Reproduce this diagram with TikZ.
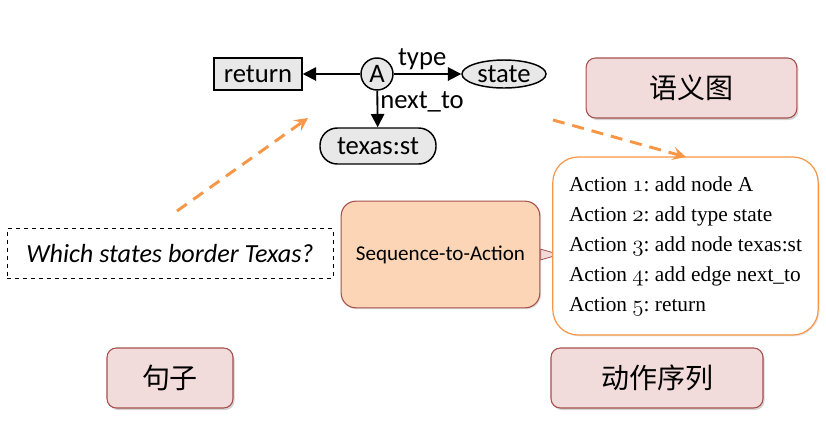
\documentclass[tikz,border=0pt]{standalone}
\usepackage{fontspec}
\setsansfont{Carlito}
\setmainfont{Liberation Serif}
\newfontfamily\cjk{Noto Sans CJK SC}
\usetikzlibrary{arrows.meta,positioning,shapes.geometric,shadows}
\definecolor{GraphGray}{RGB}{232,232,232}
\definecolor{SoftPink}{RGB}{242,220,219}
\definecolor{DeepRed}{RGB}{165,80,77}
\definecolor{SoftPeach}{RGB}{251,213,181}
\definecolor{PptOrange}{RGB}{247,150,70}
\newcommand\osf[1]{{\usefont{OML}{cmm}{m}{it}#1}}
\tikzset{
  gnode/.style={draw=black,fill=GraphGray,line width=1.1pt,inner sep=0pt,
    font=\sffamily\fontsize{20}{22}\selectfont},
  glabel/.style={font=\sffamily\fontsize{20}{22}\selectfont,inner sep=1.5pt},
  garrow/.style={-{Triangle[length=10pt,width=10pt]},line width=1.4pt,black},
  tag/.style={draw=DeepRed,fill=SoftPink,rounded corners=7pt,line width=0.8pt,
    font=\cjk\fontsize{21}{24}\selectfont,minimum height=45pt,
    drop shadow={shadow xshift=1.2pt,shadow yshift=-1.5pt,opacity=0.35}},
  hint/.style={-{Stealth[length=10pt,width=10pt,inset=4pt]},PptOrange,
    line width=2.2pt,dash pattern=on 9pt off 6pt},
  model/.style={draw=DeepRed,fill=SoftPeach,rounded corners=11pt,line width=0.8pt,
    minimum width=149pt,minimum height=80pt,
    font=\sffamily\fontsize{15.8}{18}\selectfont,
    drop shadow={shadow xshift=1pt,shadow yshift=-1pt,opacity=0.25}},
  tab/.style={isosceles triangle,isosceles triangle stretches,draw=DeepRed,
    fill=SoftPink,line width=0.6pt,inner sep=0pt,minimum width=8pt,
    minimum height=14pt}
}
\begin{document}
\begin{tikzpicture}[x=0.75pt,y=-0.75pt]
  \useasboundingbox (0,0) rectangle (826,444);

  % semantic graph
  \node[gnode,circle,minimum size=24pt] (A) at (377,74) {A};
  \node[gnode,minimum width=66pt,minimum height=24pt] (ret) at (258,74) {return};
  \node[gnode,ellipse,minimum width=63pt,minimum height=21pt] (state) at (504,74) {state};
  \node[gnode,rounded corners=13pt,minimum width=87pt,minimum height=27pt]
    (texas) at (378,146) {texas:st};
  \draw[garrow] (A) -- (ret);
  \draw[garrow] (A) -- node[glabel,above,xshift=-4pt,yshift=1pt]{type} (state);
  \draw[garrow] (A) -- node[glabel,right,pos=0.3]{next\_to} (texas);

  % input and model
  \node[draw,dashed,line width=0.6pt,minimum width=244.5pt,minimum height=37pt,
    font=\sffamily\itshape\fontsize{19.6}{22}\selectfont] (question) at (170,253.5)
    {Which states border Texas?};
  \node[model] (seq) at (440.5,254.5) {Sequence-to-Action};
  \node[tab,right=0pt of seq] (tip) {};
  \node[draw=PptOrange,fill=white,rounded corners=19pt,line width=0.9pt,
    minimum width=199pt,minimum height=133.5pt,align=left,
    font=\frenchspacing\fontsize{16}{22.5}\selectfont,
    drop shadow={shadow xshift=1pt,shadow yshift=-1pt,opacity=0.2}] (actions) at (685.5,246)
    {Action \osf{1}: add node A\\
     Action \osf{2}: add type state\\
     Action \osf{3}: add node texas:st\\
     Action \osf{4}: add edge next\_to\\
     Action \osf{5}: return};

  % tags
  \node[tag,minimum width=158pt] (graphtag) at (691.5,88) {语义图};
  \node[tag,minimum width=94.5pt] (senttag) at (170,378) {句子};
  \node[tag,minimum width=159pt] (acttag) at (657,378) {动作序列};

  % dashed hints
  \coordinate (q1) at (177,211);
  \coordinate (g1) at (308,118);
  \coordinate (g2) at (553,120);
  \coordinate (a1) at (686,157);
  \draw[hint] (q1) -- (g1);
  \draw[hint] (g2) -- (a1);
\end{tikzpicture}
\end{document}
